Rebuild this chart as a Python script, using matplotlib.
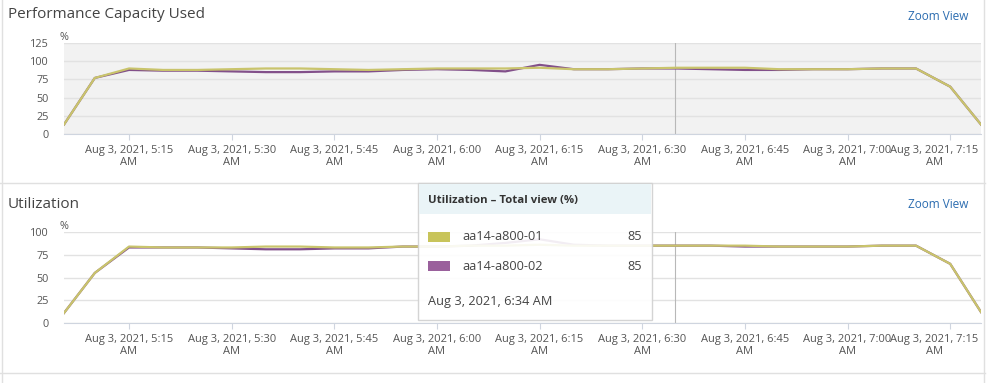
import pandas as pd
import matplotlib
matplotlib.use("Agg")
import matplotlib.pyplot as plt
import matplotlib.dates as mdates
from matplotlib.patches import Rectangle
from matplotlib.lines import Line2D
from matplotlib.ticker import FuncFormatter
from matplotlib.transforms import ScaledTranslation

plt.rcParams['font.family'] = ['Open Sans', 'DejaVu Sans']

# sample times: first/last samples are partial intervals
mid_times = pd.date_range("2021-08-03 05:10", "2021-08-03 07:15", freq="5min")
times = pd.DatetimeIndex([pd.Timestamp("2021-08-03 05:05:30")]
                         + list(mid_times)
                         + [pd.Timestamp("2021-08-03 07:19:30")])

series_names = ["aa14-a800-01", "aa14-a800-02"]

perf_01 = [13, 77, 90, 88, 88, 89, 90, 90, 89, 88, 89, 90, 90, 90, 91, 89, 89,
           90, 91, 91, 91, 89, 89, 89, 90, 90, 65, 13]
perf_02 = [13, 77, 88, 87, 87, 86, 85, 85, 86, 86, 88, 89, 88, 86, 95, 89, 89,
           90, 90, 89, 88, 88, 89, 89, 90, 90, 65, 13]

util_01 = [11, 55, 84, 83, 83, 83, 84, 84, 83, 83, 84, 84, 85, 85, 86, 85, 85,
           85, 85, 85, 85, 84, 84, 84, 85, 85, 65, 12]
util_02 = [11, 55, 83, 83, 83, 82, 81, 81, 82, 82, 84, 84, 85, 88, 92, 86, 85,
           85, 85, 85, 84, 84, 84, 84, 85, 85, 65, 12]

perf_ticks = [0, 25, 50, 75, 100, 125]
util_ticks = [0, 25, 50, 75, 100]

cursor_time = pd.Timestamp("2021-08-03 06:34:50")
tooltip_title = "Utilization – Total view (%)"
tooltip_values = [85, 85]
tooltip_date = "Aug 3, 2021, 6:34 AM"

YELLOW = "#c9c46c"
PURPLE = "#82508a"
SWATCH = ["#c8c45a", "#9a609c"]
TEXT = "#555555"

W, H = 991, 383


def fx(px):
    return px / W


def fy(py):
    return 1 - py / H


def tick_label(x, pos):
    d = mdates.num2date(x)
    hour = d.hour % 12 or 12
    ampm = "AM" if d.hour < 12 else "PM"
    return f"{d:%b} {d.day}, {d.year}, {hour}:{d:%M}\n{ampm}"


def style_axes(ax, yticks, bg):
    ax.set_facecolor(bg)
    ax.set_xlim(times[0], times[-1])
    ax.set_ylim(yticks[0], yticks[-1])
    ax.set_yticks(yticks)
    ax.yaxis.grid(True, color="#e2e2e2", lw=1)
    ax.set_axisbelow(True)
    for s in ["top", "left", "right"]:
        ax.spines[s].set_visible(False)
    ax.spines["bottom"].set_color("#cfd5df")
    ax.xaxis.set_major_locator(mdates.MinuteLocator(byminute=[0, 15, 30, 45]))
    ax.xaxis.set_major_formatter(FuncFormatter(tick_label))
    ax.tick_params(axis="x", length=4, color="#cfd5df", pad=4,
                   labelsize=8.0, labelcolor=TEXT)
    ax.tick_params(axis="y", length=0, pad=11, labelsize=7.8, labelcolor=TEXT)
    ax.text(0.0, 0.995, "%", transform=ax.transAxes, fontsize=7.8,
            color=TEXT, ha="center", va="bottom")
    ax.axvline(cursor_time, color="#b8b8b8", lw=0.8, zorder=1)


fig = plt.figure(figsize=(W / 100, H / 100), dpi=100)

ax1 = fig.add_axes([fx(64), fy(134), fx(981) - fx(64), fy(43) - fy(134)])
ax2 = fig.add_axes([fx(64), fy(323), fx(981) - fx(64), fy(232) - fy(323)])

ax1.plot(times, perf_02, color=PURPLE, lw=1.6, zorder=3)
ax1.plot(times, perf_01, color=YELLOW, lw=1.6, zorder=4)
style_axes(ax1, perf_ticks, "#f2f2f2")

ax2.plot(times, util_02, color=PURPLE, lw=1.6, zorder=3)
ax2.plot(times, util_01, color=YELLOW, lw=1.6, zorder=4)
style_axes(ax2, util_ticks, "white")

# the last tick label is pushed left to stay inside the panel
fig.canvas.draw()
shift = ScaledTranslation(-16 / 100, 0, fig.dpi_scale_trans)
for ax in (ax1, ax2):
    labels = ax.get_xticklabels()
    for lbl in labels:
        lbl.set_linespacing(1.1)
    labels[-1].set_transform(labels[-1].get_transform() + shift)

# panel titles and links
fig.text(fx(8), fy(15), "Performance Capacity Used", fontsize=11,
         color="#444444", va="center")
fig.text(fx(8), fy(204), "Utilization", fontsize=11, color="#444444",
         va="center")
fig.text(fx(968), fy(16), "Zoom View", fontsize=8.5, color="#2b6cb0",
         ha="right", va="center")
fig.text(fx(968), fy(205), "Zoom View", fontsize=8.5, color="#2b6cb0",
         ha="right", va="center")

# panel borders
border = "#e0e0e0"
for y in [183, 373]:
    fig.add_artist(Line2D([fx(0), fx(985)], [fy(y), fy(y)], color=border,
                          lw=1, transform=fig.transFigure))
for x in [2, 984]:
    fig.add_artist(Line2D([fx(x), fx(x)], [fy(0), fy(383)], color=border,
                          lw=1, transform=fig.transFigure))

# tooltip
tx0, tx1, ty0, ty1 = 418, 652, 183, 320
fig.add_artist(Rectangle((fx(tx0), fy(ty1)), fx(tx1) - fx(tx0),
                         fy(ty0) - fy(ty1), transform=fig.transFigure,
                         facecolor="white", alpha=0.9, edgecolor="#d0d0d0",
                         lw=1, zorder=10))
fig.add_artist(Rectangle((fx(tx0 + 1), fy(214)), fx(tx1 - 1) - fx(tx0 + 1),
                         fy(ty0 + 1) - fy(214), transform=fig.transFigure,
                         facecolor="#eaf4f7", edgecolor="none", zorder=11))
fig.text(fx(428), fy(201), tooltip_title, fontsize=8.2, fontweight="bold",
         color="#333333", va="center", zorder=12)
for i, (name, val) in enumerate(zip(series_names, tooltip_values)):
    yc = 237 + i * 29
    fig.add_artist(Rectangle((fx(428), fy(yc + 5)), fx(450) - fx(428),
                             fy(yc - 5) - fy(yc + 5), transform=fig.transFigure,
                             facecolor=SWATCH[i], edgecolor="none", zorder=12))
    fig.text(fx(462), fy(yc), name, fontsize=9.2, color="#444444",
             va="center", zorder=12)
    fig.text(fx(642), fy(yc), str(val), fontsize=9.2, color="#444444",
             ha="right", va="center", zorder=12)
fig.text(fx(428), fy(302), tooltip_date, fontsize=9.2, color="#444444",
         va="center", zorder=12)

fig.savefig("out.png", dpi=100)
